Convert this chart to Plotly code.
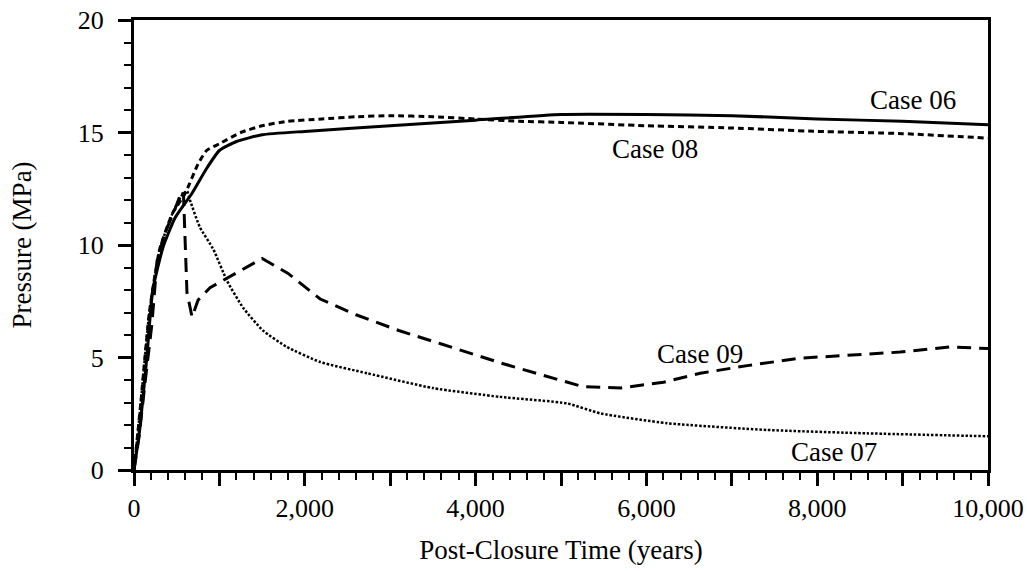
import plotly.graph_objects as go

# ---- data ----
case06_x = [0, 70, 150, 220, 340, 480, 680, 850, 1000, 1200, 1500, 2000, 3000, 4000, 5000, 6000, 7000, 8000, 9000, 10000]
case06_y = [0, 1.9, 5.0, 8.0, 9.9, 11.2, 12.3, 13.4, 14.2, 14.6, 14.9, 15.05, 15.3, 15.55, 15.8, 15.8, 15.75, 15.6, 15.5, 15.35]

case08_x = [0, 80, 180, 300, 450, 600, 750, 850, 1000, 1250, 1500, 1800, 2200, 2600, 3000, 3500, 4000, 4500, 5000, 6000, 7000, 8000, 9000, 10000]
case08_y = [0, 3.0, 7.0, 9.8, 11.4, 12.3, 13.6, 14.2, 14.5, 15.0, 15.3, 15.5, 15.6, 15.7, 15.75, 15.7, 15.6, 15.5, 15.45, 15.3, 15.2, 15.05, 14.95, 14.75]

case09_x = [0, 60, 130, 210, 270, 360, 480, 560, 580, 620, 680, 750, 890, 1125, 1500, 1800, 2180, 2600, 3100, 3600, 4300, 4800, 5260, 5700, 6200, 6630, 7200, 7800, 8400, 8970, 9550, 10000]
case09_y = [0, 1.5, 3.9, 6.5, 9.3, 10.5, 11.6, 12.4, 12.2, 7.9, 6.8, 7.55, 8.1, 8.6, 9.4, 8.75, 7.6, 6.9, 6.2, 5.6, 4.75, 4.2, 3.7, 3.65, 3.9, 4.3, 4.65, 4.97, 5.1, 5.24, 5.47, 5.4]

case07_x = [0, 80, 180, 300, 450, 560, 620, 655, 770, 930, 1090, 1280, 1510, 1790, 2180, 2730, 3500, 4286, 5070, 5457, 6240, 7410, 8580, 10000]
case07_y = [0, 3.0, 7.0, 9.8, 11.4, 12.2, 12.4, 12.0, 10.8, 9.8, 8.4, 7.2, 6.2, 5.47, 4.8, 4.3, 3.64, 3.25, 2.96, 2.52, 2.08, 1.78, 1.63, 1.5]

x_tickvals = [0, 1000, 2000, 3000, 4000, 5000, 6000, 7000, 8000, 9000, 10000]
x_ticktext = ["0", "", "2,000", "", "4,000", "", "6,000", "", "8,000", "", "10,000"]
y_tickvals = [0, 5, 10, 15, 20]

labels = ["Case 06", "Case 08", "Case 09", "Case 07"]
label_x = [9122, 6101, 6628, 8200]
label_y = [16.45, 14.25, 5.15, 0.8]

FONT = "Liberation Serif"

fig = go.Figure()
fig.add_trace(go.Scatter(x=case06_x, y=case06_y, mode="lines",
                         line=dict(color="black", width=3, shape="spline", smoothing=0.5)))
fig.add_trace(go.Scatter(x=case08_x, y=case08_y, mode="lines",
                         line=dict(color="black", width=3, dash="6px,4px", shape="spline", smoothing=0.5)))
fig.add_trace(go.Scatter(x=case09_x, y=case09_y, mode="lines",
                         line=dict(color="black", width=3, dash="14px,8px")))
fig.add_trace(go.Scatter(x=case07_x, y=case07_y, mode="lines",
                         line=dict(color="black", width=2.5, dash="2.5px,1.8px", shape="spline", smoothing=0.5)))

for t, ax, ay in zip(labels, label_x, label_y):
    fig.add_annotation(x=ax, y=ay, text=t, showarrow=False,
                       font=dict(family=FONT, size=27, color="black"))

fig.update_xaxes(range=[0, 10000], tickvals=x_tickvals, ticktext=x_ticktext,
                 automargin=False,
                 ticks="outside", ticklen=13, tickwidth=2.5, tickcolor="black",
                 minor=dict(dtick=200, ticks="outside", ticklen=7, tickwidth=2, tickcolor="black"),
                 showline=True, linecolor="black", linewidth=3, mirror=True,
                 showgrid=False, zeroline=False,
                 tickfont=dict(family=FONT, size=26, color="black"),
                 title=dict(text="Post-Closure Time (years)", standoff=18,
                            font=dict(family=FONT, size=27, color="black")))
fig.update_yaxes(range=[0, 20], tickvals=y_tickvals,
                 automargin=False,
                 ticks="outside", ticklen=13, tickwidth=2.5, tickcolor="black",
                 minor=dict(dtick=1, ticks="outside", ticklen=7, tickwidth=2, tickcolor="black"),
                 showline=True, linecolor="black", linewidth=3, mirror=True,
                 showgrid=False, zeroline=False, ticklabelstandoff=9,
                 tickfont=dict(family=FONT, size=26, color="black"),
                 title=dict(text="Pressure (MPa)", standoff=39,
                            font=dict(family=FONT, size=27, color="black")))

fig.update_layout(width=1027, height=571, showlegend=False,
                  margin=dict(l=134, r=39, t=20, b=101),
                  paper_bgcolor="white", plot_bgcolor="white")

fig.write_html("out.html")
